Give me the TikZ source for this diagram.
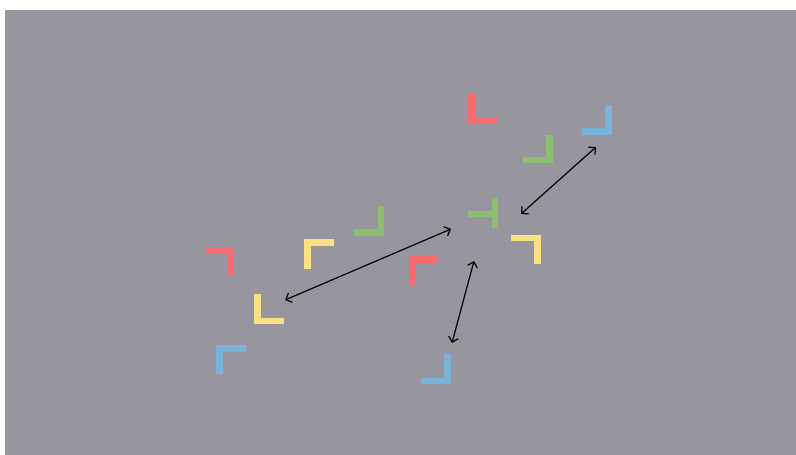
\documentclass[tikz,border=0pt]{standalone}
\usetikzlibrary{arrows.meta}

\definecolor{bggray}{RGB}{151,150,158}
\definecolor{cred}{RGB}{246,108,110}
\definecolor{cblue}{RGB}{122,178,216}
\definecolor{cgreen}{RGB}{140,190,112}
\definecolor{cyellow}{RGB}{250,226,128}

\begin{document}
\begin{tikzpicture}[x=1pt,y=-1pt]
    \useasboundingbox (0,0) rectangle (796,455);
    \fill[bggray] (5,10) rectangle (796,455);

    % corner marks
    \tikzset{bar/.style={line width=6.5pt,line cap=butt,line join=miter}}
    \draw[bar,cred] (471.5,94) -- (471.5,120) -- (498,120);
    \draw[bar,cblue] (608.5,105) -- (608.5,131.5) -- (582,131.5);
    \draw[bar,cgreen] (549.5,135) -- (549.5,160) -- (523,160);
    \draw[bar,cgreen] (495,198) -- (495,228);
    \draw[bar,cgreen] (468,214) -- (495,214);
    \draw[bar,cyellow] (511,238) -- (537.5,238) -- (537.5,264);
    \draw[bar,cred] (438,259.5) -- (412.5,259.5) -- (412.5,285);
    \draw[bar,cblue] (447.5,354) -- (447.5,381) -- (421,381);
    \draw[bar,cred] (205,250) -- (231,250) -- (231,276);
    \draw[bar,cyellow] (334,242.5) -- (307.5,242.5) -- (307.5,269);
    \draw[bar,cgreen] (381,206) -- (381,232.5) -- (354,232.5);
    \draw[bar,cyellow] (257.5,294) -- (257.5,321) -- (284,321);
    \draw[bar,cblue] (246,348.5) -- (219.5,348.5) -- (219.5,374);

    % arrow ends
    \coordinate (a1) at (451,229);
    \coordinate (a2) at (285,300);
    \coordinate (b1) at (596,147);
    \coordinate (b2) at (521,214);
    \coordinate (c1) at (474,261);
    \coordinate (c2) at (452,343);

    % double arrows
    \tikzset{link/.style={line width=1.2pt,{Straight Barb[length=5pt,width=10pt]}-{Straight Barb[length=5pt,width=10pt]}}}
    \draw[link] (a1) -- (a2);
    \draw[link] (b1) -- (b2);
    \draw[link] (c1) -- (c2);
\end{tikzpicture}
\end{document}
